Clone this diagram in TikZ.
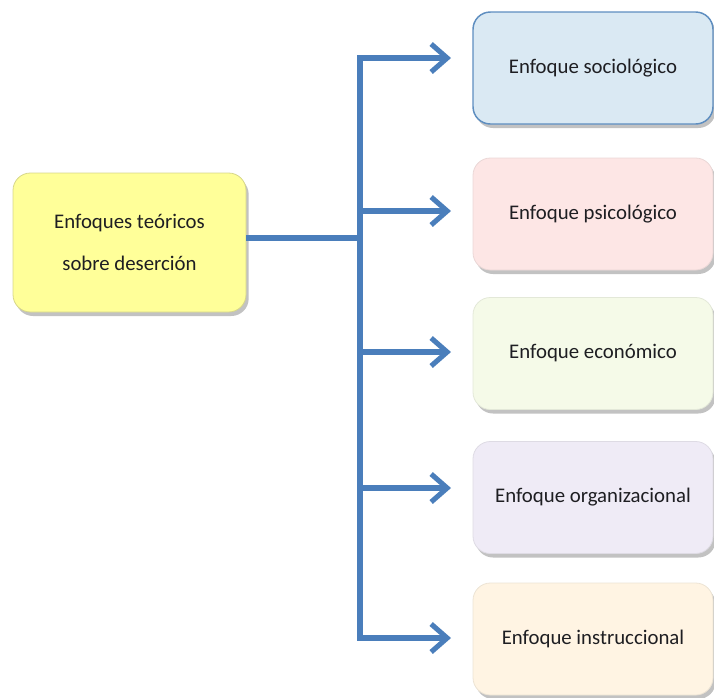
\documentclass[tikz,border=0pt]{standalone}
\usepackage{fontspec}
\setmainfont{Carlito}
\usetikzlibrary{arrows.meta,shadows}

\definecolor{linkblue}{HTML}{4A7EBB}
\definecolor{socfill}{HTML}{DAE9F3}
\definecolor{socdraw}{HTML}{5E8EC0}
\definecolor{psifill}{HTML}{FDE6E5}
\definecolor{ecofill}{HTML}{F5FAE8}
\definecolor{orgfill}{HTML}{EFEBF6}
\definecolor{insfill}{HTML}{FFF4E3}
\definecolor{mainfill}{HTML}{FFFF99}
\definecolor{maindraw}{HTML}{D6D68A}
\definecolor{inktext}{HTML}{1E1E22}

\tikzset{
  panel/.style={rectangle, rounded corners=13pt, line width=0.6pt,
    text=inktext, font=\fontsize{15.6}{31.5}\selectfont, align=center,
    drop shadow={shadow xshift=2pt, shadow yshift=-3pt, opacity=0.4, fill=black!60}},
  branch/.style={rectangle, panel, minimum width=180pt, minimum height=84pt},
  link/.style={draw=linkblue, line width=3.8pt},
  tip/.style={link, -{Straight Barb[length=12pt, width=21pt]}}
}

\begin{document}
\begin{tikzpicture}[x=0.75pt, y=-0.75pt]
  \useasboundingbox (0,0) rectangle (714,697);

  % central topic
  \node[panel, fill=mainfill, draw=maindraw, minimum width=174.75pt, minimum height=104.25pt]
    (main) at (129.5,242.5) {Enfoques teóricos\\sobre deserción};

  % the five approaches
  \node[branch, fill=socfill, draw=socdraw, line width=1.1pt] (soc) at (593,68) {Enfoque sociológico};
  \node[branch, fill=psifill, draw=psifill!85!gray] (psi) at (593,214) {Enfoque psicológico};
  \node[branch, fill=ecofill, draw=ecofill!85!gray] (eco) at (593,353.5) {Enfoque económico};
  \node[branch, fill=orgfill, draw=orgfill!85!gray] (org) at (593,497.5) {Enfoque organizacional};
  \node[branch, fill=insfill, draw=insfill!85!gray] (ins) at (593,639) {Enfoque instruccional};

  % trunk and branch points
  \coordinate (hub) at (360,238);
  \coordinate (t1) at (360,58);
  \coordinate (t2) at (360,211);
  \coordinate (t3) at (360,352);
  \coordinate (t4) at (360,488);
  \coordinate (t5) at (360,638);
  \coordinate (a1) at (451,58);
  \coordinate (a2) at (451,211);
  \coordinate (a3) at (451,352);
  \coordinate (a4) at (451,488);
  \coordinate (a5) at (451,638);

  \draw[link] (main.east |- hub) -- (hub);
  \draw[link, line cap=rect] (t1) -- (t5);
  \foreach \i in {1,...,5} {
    \draw[tip] (t\i) -- (a\i);
  }
\end{tikzpicture}
\end{document}
